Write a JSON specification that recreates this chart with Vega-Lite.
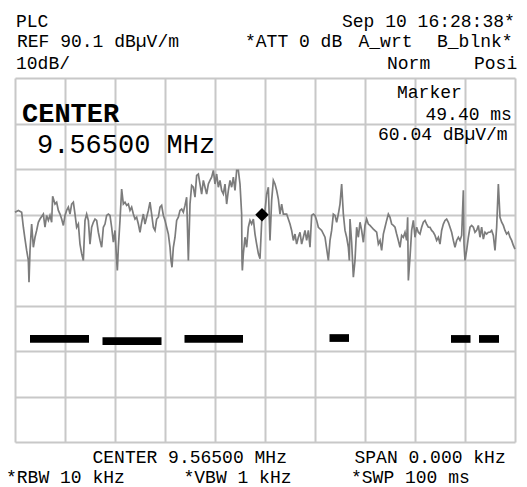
{
"$schema":"https://vega.github.io/schema/vega-lite/v6.json",
"width":500,"height":364,
"autosize":{"type":"none"},
"padding":{"left":15,"top":78,"right":12,"bottom":45},
"background":"white",
"config":{"view":{"stroke":null}},
"datasets":{
"trace":[{"t":0,"v":60.6},{"t":0.67,"v":61.0},{"t":1.33,"v":60.6},{"t":1.67,"v":57.3},{"t":2.0,"v":54.7},{"t":2.33,"v":52.2},{"t":2.67,"v":50.0},{"t":2.8,"v":45.2},{"t":3.0,"v":52.2},{"t":3.33,"v":58.0},{"t":3.67,"v":52.9},{"t":4.0,"v":55.1},{"t":4.33,"v":56.6},{"t":4.67,"v":58.4},{"t":5.0,"v":59.1},{"t":5.67,"v":60.2},{"t":6.0,"v":57.3},{"t":6.33,"v":59.9},{"t":6.67,"v":58.8},{"t":7.0,"v":59.9},{"t":7.33,"v":58.4},{"t":7.53,"v":64.1},{"t":8.0,"v":62.4},{"t":8.33,"v":62.8},{"t":8.67,"v":61.0},{"t":9.0,"v":60.2},{"t":9.33,"v":59.1},{"t":9.67,"v":57.7},{"t":10.0,"v":59.9},{"t":10.33,"v":61.0},{"t":10.67,"v":61.7},{"t":11.0,"v":60.2},{"t":11.33,"v":62.4},{"t":11.67,"v":62.8},{"t":12.0,"v":60.2},{"t":12.33,"v":57.3},{"t":12.67,"v":58.0},{"t":13.0,"v":53.6},{"t":13.33,"v":51.5},{"t":13.67,"v":50.0},{"t":14.0,"v":58.8},{"t":14.33,"v":60.2},{"t":14.67,"v":58.8},{"t":15.0,"v":53.6},{"t":15.33,"v":57.3},{"t":15.67,"v":58.4},{"t":16.0,"v":59.1},{"t":16.33,"v":58.8},{"t":16.67,"v":56.2},{"t":17.0,"v":54.4},{"t":17.33,"v":52.9},{"t":17.67,"v":57.3},{"t":18.0,"v":58.0},{"t":18.33,"v":59.9},{"t":18.67,"v":60.2},{"t":19.0,"v":59.9},{"t":19.33,"v":57.3},{"t":19.67,"v":54.0},{"t":20.0,"v":56.6},{"t":20.33,"v":50.0},{"t":20.47,"v":47.8},{"t":20.67,"v":52.9},{"t":21.0,"v":58.8},{"t":21.33,"v":65.7},{"t":21.67,"v":62.4},{"t":22.0,"v":62.8},{"t":22.33,"v":62.1},{"t":22.67,"v":62.4},{"t":23.0,"v":61.0},{"t":23.33,"v":61.7},{"t":23.67,"v":60.2},{"t":24.0,"v":59.1},{"t":24.33,"v":59.5},{"t":24.67,"v":58.0},{"t":25.0,"v":56.2},{"t":25.33,"v":58.4},{"t":25.67,"v":60.2},{"t":26.0,"v":58.0},{"t":26.33,"v":59.5},{"t":26.67,"v":61.0},{"t":27.0,"v":62.8},{"t":27.33,"v":60.2},{"t":27.67,"v":57.3},{"t":28.0,"v":56.6},{"t":28.33,"v":59.1},{"t":28.67,"v":59.5},{"t":29.0,"v":61.7},{"t":29.33,"v":62.1},{"t":29.67,"v":59.9},{"t":30.0,"v":58.8},{"t":30.33,"v":57.3},{"t":30.67,"v":55.8},{"t":31.0,"v":52.9},{"t":31.2,"v":50.0},{"t":31.4,"v":48.5},{"t":31.67,"v":52.9},{"t":32.0,"v":55.1},{"t":32.33,"v":58.8},{"t":32.67,"v":59.5},{"t":33.0,"v":61.0},{"t":33.33,"v":61.3},{"t":33.67,"v":60.6},{"t":34.0,"v":62.1},{"t":34.33,"v":63.9},{"t":34.67,"v":50.0},{"t":34.87,"v":57.3},{"t":35.0,"v":62.4},{"t":35.33,"v":66.5},{"t":35.67,"v":66.1},{"t":36.0,"v":63.9},{"t":36.33,"v":68.7},{"t":36.67,"v":69.0},{"t":37.0,"v":66.8},{"t":37.33,"v":64.6},{"t":37.67,"v":67.6},{"t":38.0,"v":66.1},{"t":38.33,"v":64.6},{"t":38.67,"v":66.8},{"t":39.0,"v":67.6},{"t":39.33,"v":68.3},{"t":39.67,"v":69.8},{"t":40.0,"v":66.8},{"t":40.33,"v":69.0},{"t":40.67,"v":66.1},{"t":41.0,"v":67.6},{"t":41.33,"v":65.4},{"t":41.67,"v":64.6},{"t":42.0,"v":66.8},{"t":42.33,"v":62.4},{"t":42.67,"v":65.4},{"t":43.0,"v":67.6},{"t":43.33,"v":66.1},{"t":43.67,"v":68.3},{"t":44.0,"v":65.4},{"t":44.33,"v":69.8},{"t":44.67,"v":69.8},{"t":45.0,"v":66.8},{"t":45.33,"v":60.2},{"t":45.4,"v":50.0},{"t":45.47,"v":47.8},{"t":45.67,"v":51.5},{"t":46.0,"v":55.1},{"t":46.33,"v":52.9},{"t":46.67,"v":57.3},{"t":47.0,"v":58.8},{"t":47.33,"v":58.0},{"t":47.67,"v":59.1},{"t":48.0,"v":55.8},{"t":48.33,"v":53.6},{"t":48.67,"v":51.5},{"t":49.0,"v":50.4},{"t":49.4,"v":60.0},{"t":50.0,"v":61.0},{"t":50.33,"v":64.6},{"t":50.67,"v":66.1},{"t":51.0,"v":54.4},{"t":51.33,"v":63.2},{"t":51.67,"v":67.6},{"t":52.0,"v":66.8},{"t":52.33,"v":65.4},{"t":52.67,"v":63.5},{"t":53.0,"v":60.2},{"t":53.33,"v":62.4},{"t":53.67,"v":60.2},{"t":54.33,"v":60.2},{"t":55.0,"v":58.0},{"t":55.33,"v":56.6},{"t":55.67,"v":54.4},{"t":56.0,"v":55.8},{"t":56.33,"v":53.6},{"t":56.67,"v":55.1},{"t":57.0,"v":56.2},{"t":57.33,"v":53.6},{"t":57.67,"v":55.1},{"t":58.0,"v":56.6},{"t":58.33,"v":54.4},{"t":58.67,"v":56.6},{"t":59.0,"v":52.9},{"t":59.33,"v":59.9},{"t":59.67,"v":60.2},{"t":60.0,"v":59.9},{"t":60.33,"v":58.8},{"t":60.67,"v":57.3},{"t":61.33,"v":56.6},{"t":62.0,"v":55.1},{"t":62.67,"v":50.0},{"t":63.0,"v":54.4},{"t":63.33,"v":56.6},{"t":63.67,"v":60.2},{"t":64.0,"v":59.9},{"t":64.33,"v":58.4},{"t":64.67,"v":60.2},{"t":65.0,"v":62.4},{"t":65.33,"v":66.8},{"t":65.67,"v":60.2},{"t":66.0,"v":56.6},{"t":66.33,"v":55.1},{"t":66.67,"v":52.9},{"t":66.87,"v":50.0},{"t":67.0,"v":59.1},{"t":67.33,"v":54.0},{"t":67.67,"v":46.3},{"t":68.0,"v":50.0},{"t":68.33,"v":57.3},{"t":68.67,"v":55.1},{"t":69.0,"v":58.4},{"t":69.33,"v":56.6},{"t":69.67,"v":54.0},{"t":70.0,"v":57.7},{"t":70.33,"v":59.1},{"t":70.67,"v":58.0},{"t":71.0,"v":57.7},{"t":71.33,"v":57.3},{"t":71.67,"v":56.9},{"t":72.33,"v":56.2},{"t":72.67,"v":53.6},{"t":73.0,"v":54.4},{"t":73.33,"v":52.2},{"t":73.67,"v":55.8},{"t":74.0,"v":57.3},{"t":74.33,"v":58.8},{"t":74.67,"v":60.2},{"t":75.0,"v":59.5},{"t":75.33,"v":58.0},{"t":75.67,"v":57.7},{"t":76.0,"v":57.3},{"t":76.33,"v":55.8},{"t":76.67,"v":54.4},{"t":77.0,"v":52.9},{"t":77.33,"v":55.5},{"t":77.67,"v":55.1},{"t":78.0,"v":56.2},{"t":78.33,"v":54.4},{"t":78.53,"v":59.5},{"t":78.67,"v":45.6},{"t":79.0,"v":50.7},{"t":79.33,"v":56.6},{"t":79.67,"v":58.8},{"t":80.0,"v":55.1},{"t":80.33,"v":57.3},{"t":80.67,"v":56.2},{"t":81.0,"v":55.8},{"t":81.33,"v":57.3},{"t":81.67,"v":58.4},{"t":82.0,"v":58.8},{"t":82.33,"v":58.0},{"t":82.67,"v":57.3},{"t":83.0,"v":57.3},{"t":83.33,"v":56.6},{"t":83.67,"v":56.2},{"t":84.0,"v":55.5},{"t":84.33,"v":54.4},{"t":84.67,"v":55.1},{"t":85.0,"v":53.6},{"t":85.33,"v":56.6},{"t":85.67,"v":58.0},{"t":86.0,"v":58.8},{"t":86.33,"v":59.1},{"t":86.67,"v":58.4},{"t":87.0,"v":57.3},{"t":87.33,"v":56.2},{"t":87.67,"v":54.4},{"t":88.0,"v":52.9},{"t":88.33,"v":54.4},{"t":88.67,"v":55.1},{"t":89.0,"v":54.4},{"t":89.33,"v":55.5},{"t":89.67,"v":65.4},{"t":89.8,"v":53.6},{"t":90.0,"v":50.0},{"t":90.33,"v":52.2},{"t":90.67,"v":55.1},{"t":91.0,"v":57.3},{"t":91.33,"v":57.7},{"t":91.67,"v":57.3},{"t":92.0,"v":56.2},{"t":92.33,"v":56.6},{"t":92.67,"v":57.7},{"t":93.0,"v":55.1},{"t":93.33,"v":57.3},{"t":93.67,"v":54.7},{"t":94.0,"v":56.2},{"t":94.33,"v":55.8},{"t":94.67,"v":56.2},{"t":95.0,"v":56.2},{"t":95.33,"v":56.6},{"t":95.67,"v":55.5},{"t":96.0,"v":52.2},{"t":96.33,"v":57.3},{"t":96.67,"v":66.8},{"t":97.0,"v":59.5},{"t":97.33,"v":58.4},{"t":97.67,"v":57.7},{"t":98.0,"v":56.6},{"t":98.33,"v":55.8},{"t":98.67,"v":56.2},{"t":99.0,"v":55.1},{"t":99.33,"v":54.4},{"t":99.67,"v":53.3},{"t":100.0,"v":52.5}],
"bars":[{"t":3.0,"t2":14.8,"v":33.6,"v2":31.9},{"t":17.5,"t2":29.3,"v":33.1,"v2":31.4},{"t":33.9,"t2":45.6,"v":33.6,"v2":31.9},{"t":62.9,"t2":66.8,"v":33.8,"v2":32.1},{"t":87.2,"t2":91.1,"v":33.6,"v2":31.9},{"t":92.8,"t2":96.8,"v":33.6,"v2":31.9}],
"marker":[{"t":49.4,"v":60.04}],
"labels":[
{"t":0.2,"v":101.3,"text":"PLC","kind":"small"},
{"t":65.4,"v":101.3,"text":"Sep 10 16:28:38*","kind":"small"},
{"t":0.4,"v":96.9,"text":"REF 90.1 dBµV/m","kind":"small"},
{"t":46.0,"v":96.9,"text":"*ATT 0 dB","kind":"small"},
{"t":68.7,"v":96.9,"text":"A_wrt","kind":"small"},
{"t":84.4,"v":96.9,"text":"B_blnk*","kind":"small"},
{"t":0.2,"v":92.1,"text":"10dB/","kind":"small"},
{"t":74.4,"v":92.1,"text":"Norm","kind":"small"},
{"t":91.8,"v":92.1,"text":"Posi","kind":"small"},
{"t":76.4,"v":85.7,"text":"Marker","kind":"small"},
{"t":82.1,"v":80.9,"text":"49.40 ms","kind":"small"},
{"t":72.6,"v":76.5,"text":"60.04 dBµV/m","kind":"small"},
{"t":15.5,"v":5.4,"text":"CENTER 9.56500 MHz","kind":"small"},
{"t":67.9,"v":5.4,"text":"SPAN 0.000 kHz","kind":"small"},
{"t":-1.8,"v":1.1,"text":"*RBW 10 kHz","kind":"small"},
{"t":33.7,"v":1.1,"text":"*VBW 1 kHz","kind":"small"},
{"t":67.2,"v":1.1,"text":"*SWP 100 ms","kind":"small"},
{"t":1.4,"v":80.4,"text":"CENTER","kind":"bigbold"},
{"t":4.4,"v":73.6,"text":"9.56500 MHz","kind":"big"}
]},
"encoding":{
"x":{"field":"t","type":"quantitative","scale":{"domain":[0,100],"nice":false,"zero":false},
"axis":{"values":[0,10,20,30,40,50,60,70,80,90,100],"grid":true,"gridColor":"#c8c8c8","gridWidth":2,"labels":false,"ticks":false,"domain":false,"title":null}},
"y":{"field":"v","type":"quantitative","scale":{"domain":[10.1,90.1],"nice":false,"zero":false},
"axis":{"values":[10.1,20.1,30.1,40.1,50.1,60.1,70.1,80.1,90.1],"grid":true,"gridColor":"#c8c8c8","gridWidth":2,"labels":false,"ticks":false,"domain":false,"title":null}}
},
"layer":[
{"data":{"name":"trace"},"mark":{"type":"line","color":"#7c7c7c","strokeWidth":1.7}},
{"data":{"name":"bars"},"mark":{"type":"rect","color":"black"},"encoding":{"x2":{"field":"t2"},"y2":{"field":"v2"}}},
{"data":{"name":"marker"},"mark":{"type":"point","shape":"diamond","filled":true,"color":"black","size":180,"opacity":1}},
{"data":{"name":"labels"},"transform":[{"filter":"datum.kind==='small'"}],"mark":{"type":"text","font":"Liberation Mono","fontSize":18,"align":"left","baseline":"alphabetic","color":"black"},"encoding":{"text":{"field":"text"}}},
{"data":{"name":"labels"},"transform":[{"filter":"datum.kind==='bigbold'"}],"mark":{"type":"text","font":"Liberation Mono","fontSize":27,"fontWeight":"bold","align":"left","baseline":"alphabetic","color":"black"},"encoding":{"text":{"field":"text"}}},
{"data":{"name":"labels"},"transform":[{"filter":"datum.kind==='big'"}],"mark":{"type":"text","font":"Liberation Mono","fontSize":27,"align":"left","baseline":"alphabetic","color":"black"},"encoding":{"text":{"field":"text"}}}
]
}
